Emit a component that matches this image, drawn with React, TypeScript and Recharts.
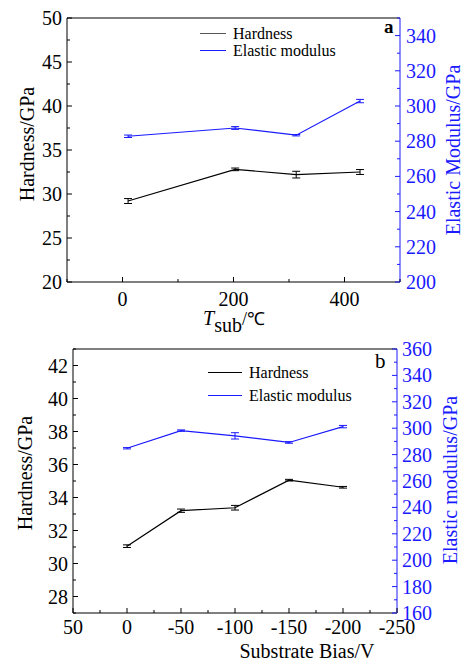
import React from 'react';
import { ComposedChart, Line, XAxis, YAxis, ErrorBar, Legend, ReferenceLine } from 'recharts';

const SERIF = '"Liberation Serif", "Times New Roman", serif';
const BLUE = '#1a1aff';

const seriesNames = ['Hardness', 'Elastic modulus'];

// (a) substrate temperature
const tempX = [10, 203, 313, 428];
const tempHardness = [29.2, 32.8, 32.2, 32.5];
const tempHardnessErr = [0.28, 0.15, 0.38, 0.28];
const tempModulus = [282.8, 287.5, 283.4, 302.8];
const tempModulusErr = [0.7, 0.8, 0.4, 0.95];

const tempXTicks = [-100, 0, 100, 200, 300, 400, 500];
const tempXLabels = [0, 200, 400];
const tempHTicks = [20, 22.5, 25, 27.5, 30, 32.5, 35, 37.5, 40, 42.5, 45, 47.5, 50];
const tempHLabels = [20, 25, 30, 35, 40, 45, 50];
const tempMTicks = [200, 210, 220, 230, 240, 250, 260, 270, 280, 290, 300, 310, 320, 330, 340, 350];
const tempMLabels = [200, 220, 240, 260, 280, 300, 320, 340];

// (b) substrate bias
const biasX = [0, -50, -100, -150, -200];
const biasHardness = [31.05, 33.2, 33.38, 35.05, 34.62];
const biasHardnessErr = [0.08, 0.1, 0.14, 0.05, 0.05];
const biasModulus = [284.8, 298.2, 294.2, 289.2, 301.2];
const biasModulusErr = [0.5, 0.5, 2.4, 0.6, 0.9];

const biasXTicks = [50, 25, 0, -25, -50, -75, -100, -125, -150, -175, -200, -225, -250];
const biasXLabels = [50, 0, -50, -100, -150, -200, -250];
const biasHTicks = [27, 28, 29, 30, 31, 32, 33, 34, 35, 36, 37, 38, 39, 40, 41, 42, 43];
const biasHLabels = [28, 30, 32, 34, 36, 38, 40, 42];
const biasMTicks = [160, 170, 180, 190, 200, 210, 220, 230, 240, 250, 260, 270, 280, 290, 300, 310, 320, 330, 340, 350, 360];
const biasMLabels = [160, 180, 200, 220, 240, 260, 280, 300, 320, 340, 360];

const tempData = tempX.map((x, i) => ({
  x,
  h: tempHardness[i],
  hErr: tempHardnessErr[i],
  m: tempModulus[i],
  mErr: tempModulusErr[i],
}));

const biasData = biasX.map((x, i) => ({
  x,
  h: biasHardness[i],
  hErr: biasHardnessErr[i],
  m: biasModulus[i],
  mErr: biasModulusErr[i],
}));

// inward ticks (major + minor), labels only on majors
const makeTick = (side: string, majors: number[], color: string, gap: number) => (props: any) => {
  const { x, y, payload } = props;
  const v = payload.value;
  const major = majors.includes(v);
  const len = major ? 5 : 3;
  if (side === 'left') {
    return (
      <g>
        <line x1={x} y1={y} x2={x + len} y2={y} stroke={color} strokeWidth={1} />
        {major && (
          <text x={x - gap} y={y} dy="0.35em" textAnchor="end" fill={color} fontSize={20} fontFamily={SERIF}>
            {v}
          </text>
        )}
      </g>
    );
  }
  if (side === 'right') {
    return (
      <g>
        <line x1={x} y1={y} x2={x - len} y2={y} stroke={color} strokeWidth={1} />
        {major && (
          <text x={x + gap} y={y} dy="0.35em" textAnchor="start" fill={color} fontSize={20} fontFamily={SERIF}>
            {v}
          </text>
        )}
      </g>
    );
  }
  return (
    <g>
      <line x1={x} y1={y} x2={x} y2={y - len} stroke={color} strokeWidth={1} />
      {major && (
        <text x={x} y={y + gap} dy="0.71em" textAnchor="middle" fill={color} fontSize={20} fontFamily={SERIF}>
          {v}
        </text>
      )}
    </g>
  );
};

const vTitle = (text: string, color: string, dx: number, dy: number) => (props: any) => {
  const vb = props.viewBox;
  const cx = vb.x + dx;
  const cy = vb.y + vb.height / 2 + dy;
  return (
    <text
      x={cx}
      y={cy}
      transform={`rotate(-90, ${cx}, ${cy})`}
      textAnchor="middle"
      dominantBaseline="central"
      fill={color}
      fontSize={20}
      fontFamily={SERIF}
    >
      {text}
    </text>
  );
};

const makeLegend = (lineW: number, rowH: number, lineColors: Record<string, string>) => (props: any) => {
  const items = [...(props.payload || [])].sort(
    (a: any, b: any) => seriesNames.indexOf(a.value) - seriesNames.indexOf(b.value)
  );
  return (
    <div style={{ fontFamily: SERIF, fontSize: 16, color: '#000' }}>
      {items.map((p: any) => (
        <div key={p.value} style={{ display: 'flex', alignItems: 'center', height: rowH, whiteSpace: 'nowrap' }}>
          <span
            style={{
              display: 'inline-block',
              width: lineW,
              borderTop: `1px solid ${lineColors[p.value] || p.color}`,
              marginRight: 7,
            }}
          />
          <span>{p.value}</span>
        </div>
      ))}
    </div>
  );
};

const cornerLetter = (letter: string, dx: number, dy: number, bold: boolean, size: number) => (props: any) => {
  const vb = props.viewBox;
  return (
    <text x={vb.x + vb.width + dx} y={vb.y + dy} fontSize={size} fontWeight={bold ? 'bold' : 'normal'} fontFamily={SERIF} fill="#000">
      {letter}
    </text>
  );
};

const TempChart = () => (
  <ComposedChart width={465} height={345} data={tempData} margin={{ top: 18, right: 15, bottom: 23, left: 17 }}>
    <XAxis
      dataKey="x"
      type="number"
      domain={[-100, 500]}
      ticks={tempXTicks}
      interval={0}
      tickSize={0}
      tickMargin={0}
      tick={makeTick('bottom', tempXLabels, '#000', 10)}
      axisLine={{ stroke: '#000' }}
      height={40}
      label={(props: any) => {
        const vb = props.viewBox;
        return (
          <text x={vb.x + 136} y={vb.y + 43} fontFamily={SERIF} fontSize={20} fill="#000">
            <tspan fontStyle="italic">T</tspan>
            <tspan dy={7}>sub</tspan>
            <tspan dy={-7} fontSize={18}>/℃</tspan>
          </text>
        );
      }}
    />
    <YAxis
      yAxisId="left"
      type="number"
      domain={[20, 50]}
      ticks={tempHTicks}
      interval={0}
      tickSize={0}
      tickMargin={0}
      tick={makeTick('left', tempHLabels, '#000', 5)}
      axisLine={{ stroke: '#000' }}
      width={50}
      label={vTitle('Hardness/GPa', '#000', 10, -6)}
    />
    <YAxis
      yAxisId="right"
      orientation="right"
      type="number"
      domain={[200, 350]}
      ticks={tempMTicks}
      interval={0}
      tickSize={0}
      tickMargin={0}
      tick={makeTick('right', tempMLabels, BLUE, 6)}
      axisLine={{ stroke: BLUE }}
      width={50}
      label={vTitle('Elastic Modulus/GPa', BLUE, 53, 0)}
    />
    <ReferenceLine yAxisId="left" y={50} stroke="#000" label={cornerLetter('a', -16, 15, true, 19)} />
    <Legend
      layout="vertical"
      align="center"
      verticalAlign="middle"
      wrapperStyle={{ left: 200, top: 25, width: 'auto' }}
      content={makeLegend(26, 17, { Hardness: '#555' })}
    />
    <Line yAxisId="left" dataKey="h" name="Hardness" stroke="#000" strokeWidth={1.2} dot={false} isAnimationActive={false}>
      <ErrorBar dataKey="hErr" direction="y" width={4} stroke="#000" strokeWidth={1} isAnimationActive={false} />
    </Line>
    <Line yAxisId="right" dataKey="m" name="Elastic modulus" stroke={BLUE} strokeWidth={1.2} dot={false} isAnimationActive={false}>
      <ErrorBar dataKey="mErr" direction="y" width={4} stroke={BLUE} strokeWidth={1} isAnimationActive={false} />
    </Line>
  </ComposedChart>
);

const BiasChart = () => (
  <ComposedChart width={465} height={331} data={biasData} margin={{ top: 19, right: 18, bottom: 8, left: 23 }}>
    <XAxis
      dataKey="x"
      type="number"
      domain={[-250, 50]}
      reversed
      ticks={biasXTicks}
      interval={0}
      tickSize={0}
      tickMargin={0}
      tick={makeTick('bottom', biasXLabels, '#000', 7)}
      axisLine={{ stroke: '#000' }}
      height={40}
      label={(props: any) => {
        const vb = props.viewBox;
        return (
          <text x={vb.x + vb.width / 2 + 72} y={vb.y + 45} textAnchor="middle" fontFamily={SERIF} fontSize={20} fill="#000">
            Substrate Bias/V
          </text>
        );
      }}
    />
    <YAxis
      yAxisId="left"
      type="number"
      domain={[27, 43]}
      ticks={biasHTicks}
      interval={0}
      tickSize={0}
      tickMargin={0}
      tick={makeTick('left', biasHLabels, '#000', 5)}
      axisLine={{ stroke: '#000' }}
      width={50}
      label={vTitle('Hardness/GPa', '#000', 2, -8)}
    />
    <YAxis
      yAxisId="right"
      orientation="right"
      type="number"
      domain={[160, 360]}
      ticks={biasMTicks}
      interval={0}
      tickSize={0}
      tickMargin={0}
      tick={makeTick('right', biasMLabels, BLUE, 5)}
      axisLine={{ stroke: BLUE }}
      width={50}
      label={vTitle('Elastic modulus/GPa', BLUE, 53, -1)}
    />
    <ReferenceLine yAxisId="left" y={43} stroke="#000" label={cornerLetter('b', -22, 19, false, 21)} />
    <Legend
      layout="vertical"
      align="center"
      verticalAlign="middle"
      wrapperStyle={{ left: 208, top: 31, width: 'auto' }}
      content={makeLegend(34, 23, {})}
    />
    <Line yAxisId="left" dataKey="h" name="Hardness" stroke="#000" strokeWidth={1.2} dot={false} isAnimationActive={false}>
      <ErrorBar dataKey="hErr" direction="y" width={4} stroke="#000" strokeWidth={1} isAnimationActive={false} />
    </Line>
    <Line yAxisId="right" dataKey="m" name="Elastic modulus" stroke={BLUE} strokeWidth={1.2} dot={false} isAnimationActive={false}>
      <ErrorBar dataKey="mErr" direction="y" width={4} stroke={BLUE} strokeWidth={1} isAnimationActive={false} />
    </Line>
  </ComposedChart>
);

export default function App() {
  return (
    <div style={{ position: 'absolute', left: 0, top: 0, width: 465, height: 661, background: '#fff', fontFamily: SERIF }}>
      <div style={{ position: 'absolute', left: 0, top: 0 }}>
        <TempChart />
      </div>
      <div style={{ position: 'absolute', left: 0, top: 330 }}>
        <BiasChart />
      </div>
    </div>
  );
}
